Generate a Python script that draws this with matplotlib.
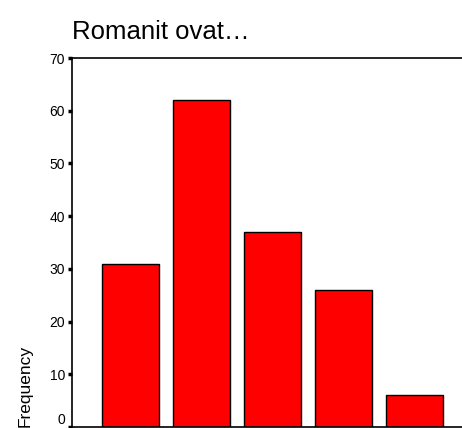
import numpy as np
import matplotlib
matplotlib.use("Agg")
import matplotlib.pyplot as plt

plt.rcParams["font.family"] = ["Liberation Sans", "DejaVu Sans"]

categories = ["1", "2", "3", "4", "5"]
counts = [31, 62, 37, 26, 6]
yticks = [0, 10, 20, 30, 40, 50, 60, 70]

fig = plt.figure(figsize=(4.62, 4.28), dpi=100)
ax = fig.add_axes([72 / 462, 1 / 428, 1 - 72 / 462, (427 - 58) / 428])

x = np.arange(len(categories))
ax.bar(x, counts, width=0.8, color="#ff0000", edgecolor="black", linewidth=1)

ax.set_xlim(-0.824, 4.67)
ax.set_ylim(0, 70)
ax.set_yticks(yticks)
ax.set_xticks([])
ax.tick_params(axis="y", length=3, width=2.5, direction="out", labelsize=10, pad=2)
ax.spines["right"].set_visible(False)
for s in ["left", "top", "bottom"]:
    ax.spines[s].set_linewidth(1.2)

# keep the 0 label inside the figure, sitting on the axis line
ax.get_yticklabels()[0].set_verticalalignment("bottom")

ax.set_ylabel("Frequency", fontsize=12.5, loc="bottom", labelpad=12)
fig.text(72 / 462, 1 - 32 / 428, "Romanit ovat…", fontsize=18.5, va="center", ha="left")

fig.savefig("out.png", dpi=100)
